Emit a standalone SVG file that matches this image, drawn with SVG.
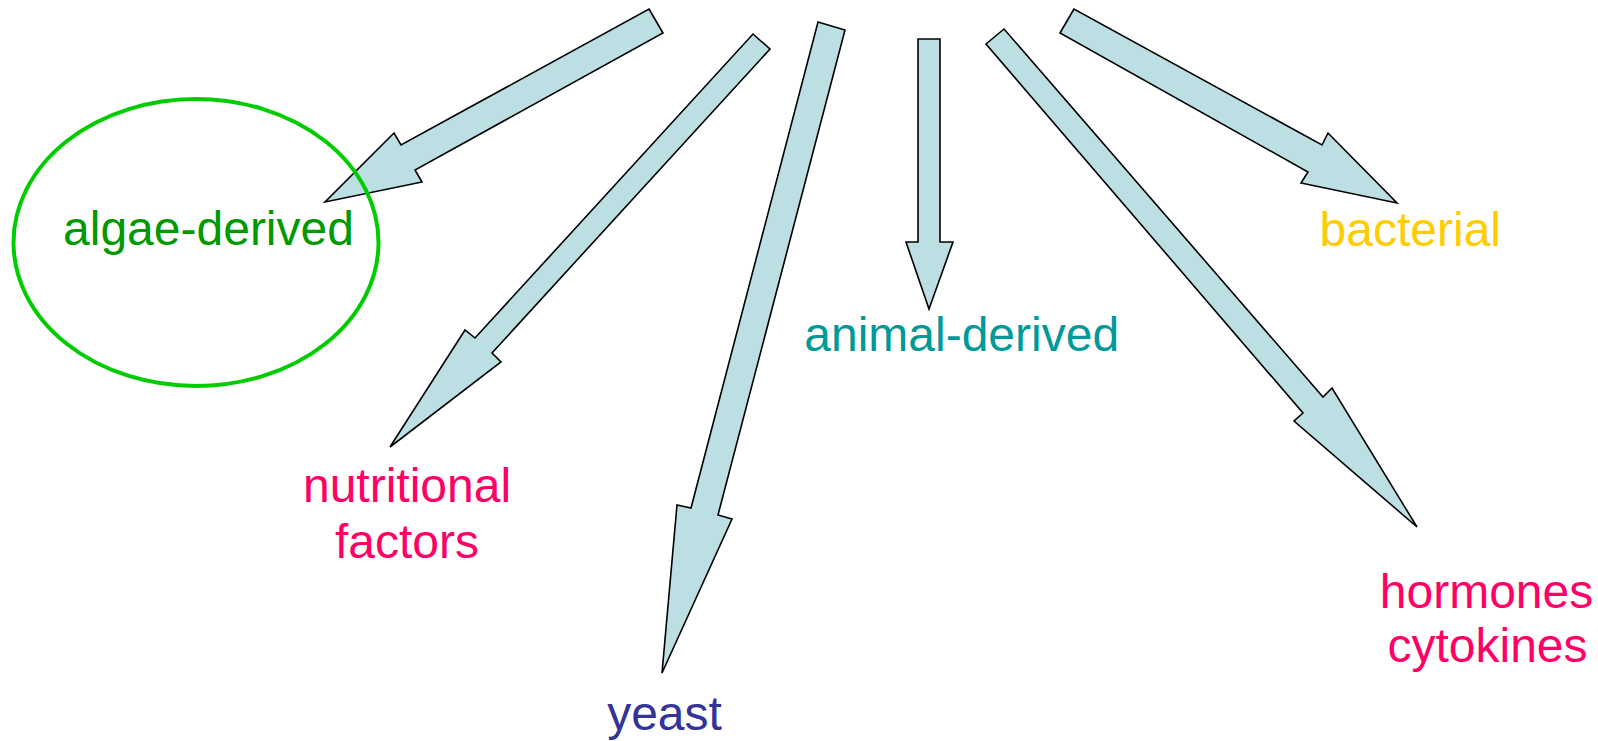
<svg xmlns="http://www.w3.org/2000/svg" width="1598" height="741" viewBox="0 0 1598 741">
<style>
.arr{fill:#bbdfe2;stroke:#000;stroke-width:1.6;stroke-linejoin:miter}
text{font-family:"Liberation Sans",Arial,sans-serif;font-size:48px;text-anchor:middle}
</style>
<rect width="1598" height="741" fill="#fff"/>
<g id="connectors">
<polygon class="arr" points="649,9 663,33 415,170 422,182 325,202 394,133 401,145"/>
<polygon class="arr" points="753,34 770,49 492,353 501,362 390,447 465,330 475,338"/>
<polygon class="arr" points="818,22 845,30 718,515 732,519 662,673 677,505 691,508"/>
<polygon class="arr" points="918,39 940,39 940,242 953,242 929,309 906,242 918,242"/>
<polygon class="arr" points="1074,9 1060,33 1308,172 1301,183 1397,203 1328,133 1322,145"/>
<polygon class="arr" points="1004,29 986,44 1303,413 1294,421 1417,527 1332,388 1323,397"/>
</g>
<g id="algae-derived">
<ellipse cx="196" cy="242.5" rx="182.5" ry="143.5" fill="none" stroke="#00cc00" stroke-width="4"/>
<text x="208.5" y="245" fill="#009900">algae-derived</text>
</g>
<g id="nutritional-factors">
<text x="407" y="502" fill="#ff0066">nutritional</text>
<text x="407" y="558" fill="#ff0066">factors</text>
</g>
<g id="yeast">
<text x="664.5" y="730" fill="#333399">yeast</text>
</g>
<g id="animal-derived">
<text x="961.7" y="350.5" fill="#009999">animal-derived</text>
</g>
<g id="bacterial">
<text x="1410.3" y="245.5" fill="#ffcc00">bacterial</text>
</g>
<g id="hormones-cytokines">
<text x="1486.5" y="608" fill="#ff0066">hormones</text>
<text x="1487.5" y="662" fill="#ff0066">cytokines</text>
</g>
</svg>
